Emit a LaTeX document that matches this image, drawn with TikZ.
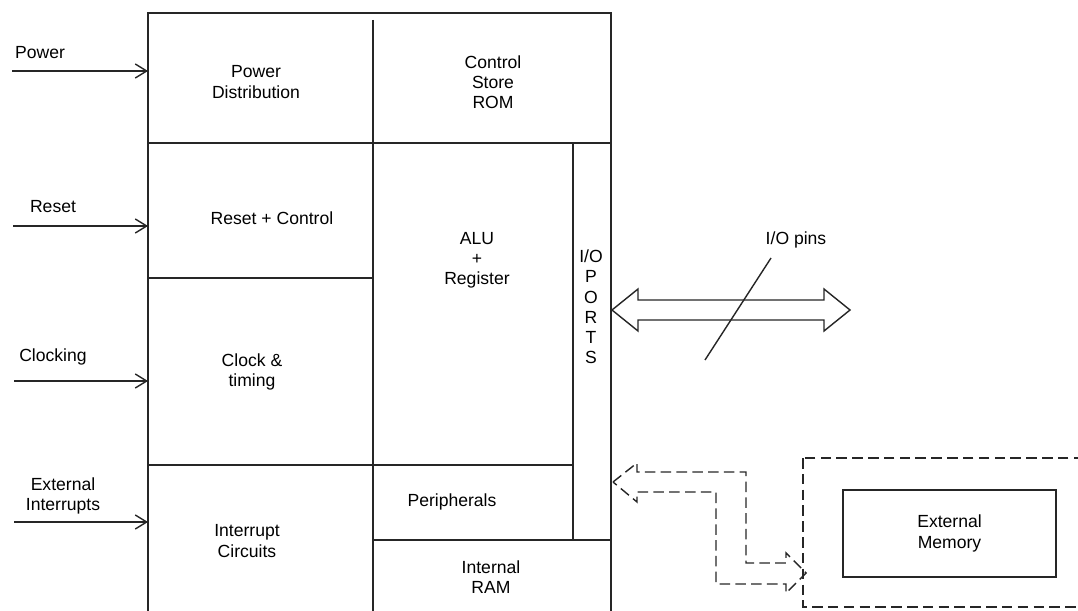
\documentclass[tikz,border=0pt]{standalone}
\usepackage{fontspec}
\setmainfont{Liberation Sans}
\usetikzlibrary{positioning, calc, arrows.meta}

\begin{document}
\begin{tikzpicture}[
    x=0.02cm, y=-0.02cm,
    line width=0.8pt, draw=black!85,
    txt/.style={align=center, inner sep=0pt, font=\fontsize{10}{11.5}\selectfont},
    inarr/.style={-{Straight Barb[length=6.5pt, width=8pt]}},
    hollow/.style={draw, fill=white, line join=miter},
    dashed box/.style={dash pattern=on 6pt off 3pt},
  ]
  \clip (0,0) rectangle (1078,611);

  % chip outline and partitions
  \coordinate (nw) at (148,13);
  \coordinate (se) at (611,620);
  \draw (nw) rectangle (se);
  \draw (148,143) -- (611,143);
  \draw (148,278) -- (373,278);
  \draw (148,465) -- (573,465);
  \draw (373,20)  -- (373,620);
  \draw (573,143) -- (573,540);
  \draw (373,540) -- (611,540);

  % blocks
  \node[txt] (pdist)   at (256,82)  {Power\\Distribution};
  \node[txt] (rom)     at (493,82)  {Control\\Store\\ROM};
  \node[txt] (rstctl)  at (272,218) {Reset + Control};
  \node[txt] (alu)     at (477,260) {ALU\\+\\Register};
  \node[txt] (ioports) at (591,307) {I/O\\P\\O\\R\\T\\S};
  \node[txt] (clk)     at (252,372) {Clock \&\\timing};
  \node[txt] (periph)  at (452,502) {Peripherals};
  \node[txt] (intc)    at (247,541) {Interrupt\\Circuits};
  \node[txt] (iram)    at (491,577) {Internal\\RAM};

  % inputs
  \node[txt] (pwrlbl) at (40,53)  {Power};
  \node[txt] (rstlbl) at (53,207) {Reset};
  \node[txt] (clklbl) at (53,357) {Clocking};
  \node[txt] (extlbl) at (63,496) {External\\Interrupts};

  \coordinate (pwrin) at (12,71);
  \coordinate (rstin) at (13,226);
  \coordinate (clkin) at (14,381);
  \coordinate (extin) at (14,522);
  \foreach \src in {pwrin, rstin, clkin, extin}
    \draw[inarr] (\src) -- (\src -| nw);

  % I/O pins bus
  \coordinate (iol) at (612,310);
  \draw[hollow] (iol) -- ++(26,-21) -- ++(0,11) -- ++(186,0) -- ++(0,-11)
    -- ++(26,21) -- ++(-26,21) -- ++(0,-11) -- ++(-186,0) -- ++(0,11) -- cycle;
  \coordinate (slA) at (705,360);
  \coordinate (slB) at (771,258);
  \draw (slA) -- (slB);
  \node[txt] (iopins) at (796,240) {I/O pins};

  % external memory path
  \coordinate (ml) at (613,482);
  \draw[dashed box] (ml) -- (637,463) -- (637,472) -- (746,472) -- (746,563)
    -- (786,563) -- (786,553) -- (806,573) -- (786,593) -- (786,584)
    -- (716,584) -- (716,492) -- (637,492) -- (637,502) -- cycle;
  \draw[dashed box] (803,458) rectangle (1095,607);
  \node[txt, draw, minimum width=4.26cm, minimum height=1.74cm]
    (extmem) at (949.5,533.5) {External\\Memory};
\end{tikzpicture}
\end{document}
